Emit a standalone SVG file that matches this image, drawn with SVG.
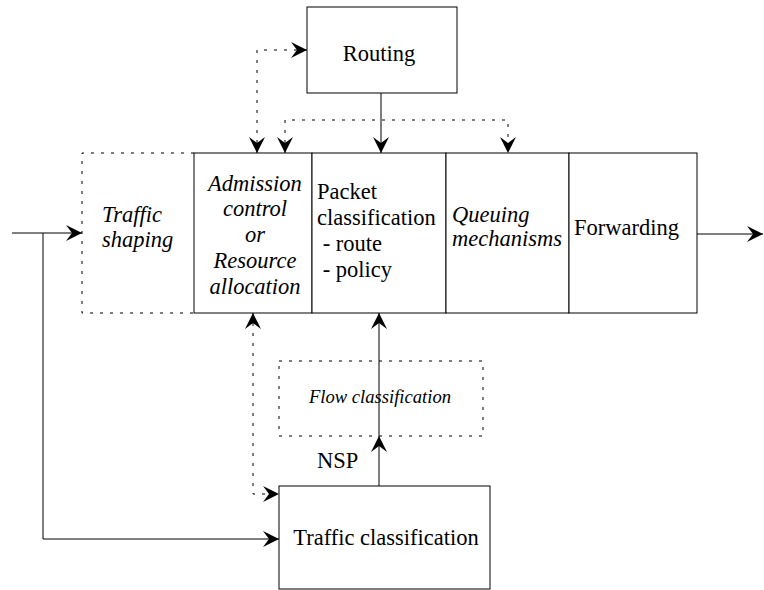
<svg xmlns="http://www.w3.org/2000/svg" width="764" height="590" viewBox="0 0 764 590">
<style>
.box{fill:#fff;stroke:#000;stroke-width:1}
.dbox{fill:none;stroke:#000;stroke-width:1;stroke-dasharray:3 7}
.ln{fill:none;stroke:#000;stroke-width:1}
.dl{fill:none;stroke:#000;stroke-width:1;stroke-dasharray:3 7}
text{font-family:'Liberation Serif','Times New Roman','DejaVu Serif',serif;font-size:22.5px;fill:#000}
.i{font-style:italic}
.c{text-anchor:middle}
</style>
<defs>
<marker id="ah" markerUnits="userSpaceOnUse" markerWidth="20" markerHeight="20" viewBox="-16 -10 20 20" refX="0" refY="0" orient="auto-start-reverse">
<path d="M0,0 L-16,-8 L-10,0 L-16,8 Z" fill="#000"/>
</marker>
</defs>
<rect width="764" height="590" fill="#fff"/>
<g id="traffic-shaping">
<path class="dbox" d="M194,153 H82 V313 H194"/>
<text class="i" x="102" y="222">Traffic</text>
<text class="i" x="102" y="247">shaping</text>
</g>
<g id="admission">
<rect class="box" x="194" y="153" width="118" height="160"/>
<text class="i c" x="255" y="191">Admission</text>
<text class="i c" x="255" y="216">control</text>
<text class="i c" x="255" y="242">or</text>
<text class="i c" x="255" y="268">Resource</text>
<text class="i c" x="255" y="294">allocation</text>
</g>
<g id="packet-classification">
<rect class="box" x="312" y="153" width="134" height="160"/>
<text x="317" y="199">Packet</text>
<text x="317" y="225">classification</text>
<text x="317" y="251" xml:space="preserve"> - route</text>
<text x="317" y="277" xml:space="preserve"> - policy</text>
</g>
<g id="queuing">
<rect class="box" x="446" y="153" width="123" height="160"/>
<text class="i" x="452" y="222">Queuing</text>
<text class="i" x="452" y="246">mechanisms</text>
</g>
<g id="forwarding">
<rect class="box" x="569" y="153" width="128" height="160"/>
<text x="574" y="235">Forwarding</text>
</g>
<g id="routing">
<rect class="box" x="307" y="7" width="150" height="86"/>
<text class="c" x="379" y="61">Routing</text>
</g>
<g id="flow-classification">
<rect class="dbox" x="279" y="361" width="204" height="75"/>
<text class="i c" x="380" y="403" style="font-size:18.6px">Flow classification</text>
</g>
<g id="traffic-classification">
<rect class="box" x="279" y="486" width="211" height="103"/>
<text class="c" x="386" y="545">Traffic classification</text>
</g>
<g id="connectors">
<path class="ln" d="M12,233 H82" marker-end="url(#ah)"/>
<path class="ln" d="M43,233 V539 H279" marker-end="url(#ah)"/>
<path class="ln" d="M697,234 H763" marker-end="url(#ah)"/>
<path class="ln" d="M381,93 V153" marker-end="url(#ah)"/>
<path class="ln" d="M379,486 V436" marker-end="url(#ah)"/>
<path class="ln" d="M379,436 V313" marker-end="url(#ah)"/>
<path class="dl" d="M257,153 V50 H307" marker-start="url(#ah)" marker-end="url(#ah)"/>
<path class="dl" d="M285,153 V120 H508 V153" marker-start="url(#ah)" marker-end="url(#ah)"/>
<path class="dl" d="M253,313 V494 H279" marker-start="url(#ah)" marker-end="url(#ah)"/>
<text x="317" y="468">NSP</text>
</g>
</svg>
